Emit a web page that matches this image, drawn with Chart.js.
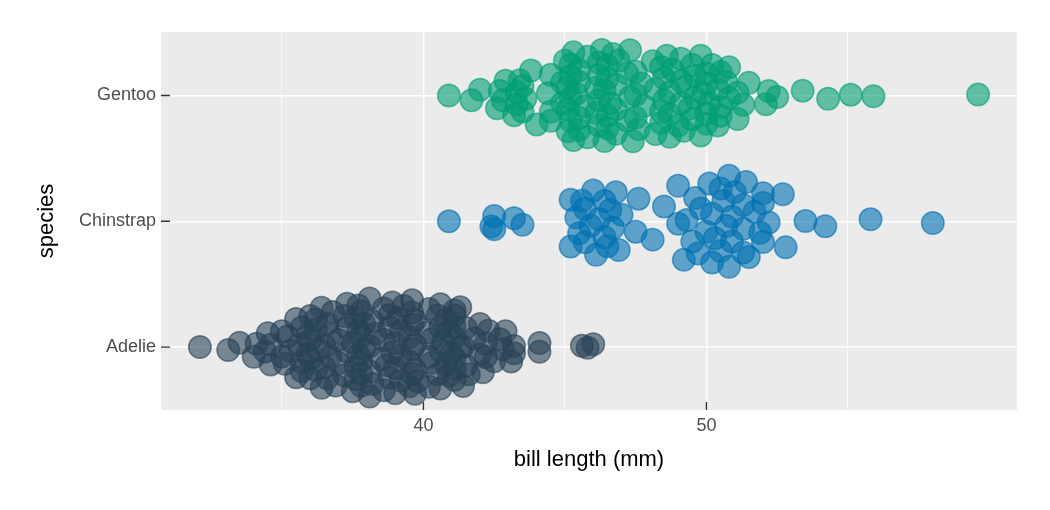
<!DOCTYPE html>
<html>
<head>
<meta charset="utf-8">
<script src="https://cdn.jsdelivr.net/npm/chart.js@4.4.1/dist/chart.umd.min.js"></script>
<style>
  body { margin: 0; background: #ffffff; }
  #wrap { width: 1050px; height: 510px; }
</style>
</head>
<body>
<div id="wrap"><canvas id="chart" width="1050" height="510"></canvas></div>
<script>
// bill length (mm) per species, in data order
const adelie = [39.1, 39.5, 40.3, 36.7, 39.3, 38.9, 39.2, 34.1, 42.0, 37.8, 37.8, 41.1, 38.6, 34.6, 36.6, 38.7, 42.5, 34.4, 46.0, 37.8,
  37.7, 35.9, 38.2, 38.8, 35.3, 40.6, 40.5, 37.9, 40.5, 39.5, 37.2, 39.5, 40.9, 36.4, 39.2, 38.8, 42.2, 37.6, 39.8, 36.5,
  40.8, 36.0, 44.1, 37.0, 39.6, 41.1, 37.5, 36.0, 42.3, 39.6, 40.1, 35.0, 42.0, 34.5, 41.4, 39.0, 40.6, 36.5, 37.6, 35.7,
  41.3, 37.6, 41.1, 36.4, 41.6, 35.5, 41.1, 35.9, 41.8, 33.5, 39.7, 39.6, 45.8, 35.5, 42.8, 40.9, 37.2, 36.2, 42.1, 34.6,
  42.9, 36.7, 35.1, 37.3, 41.3, 36.3, 36.9, 38.3, 38.9, 35.7, 41.1, 34.0, 39.6, 36.2, 40.8, 38.1, 40.3, 33.1, 43.2, 35.0,
  41.0, 37.7, 37.8, 37.9, 39.7, 38.6, 38.2, 38.1, 43.2, 38.1, 45.6, 39.7, 42.2, 39.6, 42.7, 38.6, 37.3, 35.7, 41.1, 36.2,
  37.7, 40.2, 41.4, 35.2, 40.6, 38.8, 41.5, 39.0, 44.1, 38.5, 43.1, 36.8, 37.5, 38.1, 41.1, 35.6, 40.2, 37.0, 39.7, 40.2,
  40.6, 32.1, 40.7, 37.3, 39.0, 39.2, 36.6, 36.0, 37.8, 36.0, 41.5];
const chinstrap = [46.5, 50.0, 51.3, 45.4, 52.7, 45.2, 46.1, 51.3, 46.0, 51.3, 46.6, 51.7, 47.0, 52.0, 45.9, 50.5, 50.3, 58.0, 46.4, 49.2,
  42.4, 48.5, 43.2, 50.6, 46.7, 52.0, 50.5, 49.5, 46.4, 52.8, 40.9, 54.2, 42.5, 51.0, 49.7, 47.5, 47.6, 52.0, 46.9, 53.5,
  49.0, 46.2, 50.9, 45.5, 50.9, 50.8, 50.1, 49.0, 51.5, 49.8, 48.1, 51.4, 45.7, 50.7, 42.5, 52.2, 45.2, 49.3, 50.2, 45.6,
  51.9, 46.8, 45.7, 55.8, 43.5, 49.6, 50.8, 50.2];
const gentoo = [46.1, 50.0, 48.7, 50.0, 47.6, 46.5, 45.4, 46.7, 43.3, 46.8, 40.9, 49.0, 45.5, 48.4, 45.8, 49.3, 42.0, 49.2, 46.2, 48.7,
  50.2, 45.1, 46.5, 46.3, 42.9, 46.1, 44.5, 47.8, 48.2, 50.0, 47.3, 42.8, 45.1, 59.6, 49.1, 48.4, 42.6, 44.4, 44.0, 48.7,
  42.7, 49.6, 45.3, 49.6, 50.5, 43.6, 45.5, 50.5, 44.9, 45.2, 46.6, 48.5, 45.1, 50.1, 46.5, 45.0, 43.8, 45.5, 43.2, 50.4,
  45.3, 46.2, 45.7, 54.3, 45.8, 49.8, 46.2, 49.5, 43.5, 50.7, 47.7, 46.4, 48.2, 46.5, 46.4, 48.6, 47.5, 51.1, 45.2, 45.2,
  49.1, 52.5, 47.4, 50.0, 44.9, 50.8, 43.4, 51.3, 47.5, 52.1, 47.5, 52.2, 45.5, 49.5, 44.5, 50.8, 49.4, 46.9, 48.4, 51.1,
  48.5, 55.9, 47.2, 49.1, 47.3, 46.8, 41.7, 53.4, 43.3, 48.1, 50.5, 49.8, 43.5, 51.5, 46.2, 55.1, 44.5, 48.8, 47.2, 46.8,
  50.4, 45.2, 49.9];

const species = ['Adelie', 'Chinstrap', 'Gentoo'];
const xMajorTicks = [40, 50];
const xMinorTicks = [35, 45, 55];
const xTickLabels = ['40', '50'];

const fontFamily = '"Liberation Sans", Arial, Helvetica, sans-serif';

// quasirandom layout (like ggbeeswarm): spread each group by its density
function vdc(k) {
    let out = 0, denom = 1;
    while (k > 0) {
        denom *= 2;
        out += (k % 2) / denom;
        k = Math.floor(k / 2);
    }
    return out;
}

function quasiOffsets(vals, width) {
    const n = vals.length;
    const sorted = [...vals].sort((a, b) => a - b);
    const mean = vals.reduce((s, v) => s + v, 0) / n;
    const sd = Math.sqrt(vals.reduce((s, v) => s + (v - mean) ** 2, 0) / (n - 1));
    const q = p => {
        const h = (n - 1) * p, lo = Math.floor(h);
        const hi = Math.min(lo + 1, n - 1);
        return sorted[lo] + (h - lo) * (sorted[hi] - sorted[lo]);
    };
    const bw = 0.9 * Math.min(sd, (q(0.75) - q(0.25)) / 1.34) * Math.pow(n, -0.2);
    const kde = x => vals.reduce((s, v) => s + Math.exp(-0.5 * ((x - v) / bw) ** 2), 0);
    const from = sorted[0] - 3 * bw, to = sorted[n - 1] + 3 * bw;
    let maxD = 0;
    for (let i = 0; i < 1024; i++) {
        maxD = Math.max(maxD, kde(from + (to - from) * i / 1023));
    }
    const order = vals.map((v, i) => i).sort((a, b) => vals[a] - vals[b] || a - b);
    const rank = new Array(n);
    order.forEach((idx, r) => { rank[idx] = r + 1; });
    return vals.map((v, i) => (vdc(rank[i]) - 0.5) * 2 * (kde(v) / maxD) * width);
}

function makePoints(vals, level) {
    const offs = quasiOffsets(vals, 0.4);
    return vals.map((v, i) => ({ x: v, y: level + offs[i] }));
}

function makeDataset(label, vals, level, rgb) {
    return {
        label: label,
        data: makePoints(vals, level),
        backgroundColor: 'rgba(' + rgb + ',0.6)',
        borderColor: 'rgba(' + rgb + ',0.6)',
        borderWidth: 1.5,
        pointRadius: 11.25,
        pointHoverRadius: 11.25
    };
}

const panelPlugin = {
    id: 'panel',
    beforeDraw(chart) {
        const { ctx, chartArea: a } = chart;
        ctx.save();
        ctx.fillStyle = '#EBEBEB';
        ctx.fillRect(a.left, a.top, a.right - a.left, a.bottom - a.top);
        ctx.restore();
    },
    afterDatasetsDraw(chart) {
        // ticks drawn inward from the panel edge
        const { ctx, chartArea: a, scales } = chart;
        ctx.save();
        ctx.strokeStyle = '#333333';
        ctx.lineWidth = 1.4;
        ctx.beginPath();
        xMajorTicks.forEach(v => {
            const px = scales.x.getPixelForValue(v);
            ctx.moveTo(px, a.bottom);
            ctx.lineTo(px, a.bottom - 8);
        });
        [1, 2, 3].forEach(v => {
            const py = scales.y.getPixelForValue(v);
            ctx.moveTo(a.left, py);
            ctx.lineTo(a.left + 9, py);
        });
        ctx.stroke();
        ctx.restore();
    }
};

const ctx = document.getElementById('chart').getContext('2d');
const chart = new Chart(ctx, {
    type: 'scatter',
    data: {
        datasets: [
            makeDataset('Adelie', adelie, 1, '40,66,86'),
            makeDataset('Chinstrap', chinstrap, 2, '0,114,178'),
            makeDataset('Gentoo', gentoo, 3, '0,158,115')
        ]
    },
    options: {
        responsive: false,
        devicePixelRatio: 1,
        animation: false,
        layout: { padding: { top: 32, right: 33, left: 0, bottom: 0 } },
        plugins: {
            legend: { display: false },
            tooltip: { enabled: false }
        },
        scales: {
            x: {
                type: 'linear',
                min: 30.725,
                max: 60.975,
                afterBuildTicks: scale => {
                    scale.ticks = [...xMinorTicks, ...xMajorTicks].sort((a, b) => a - b).map(v => ({ value: v }));
                },
                afterFit: scale => { scale.height = 100; },
                ticks: {
                    padding: 5,
                    color: '#4D4D4D',
                    font: { family: fontFamily, size: 18 },
                    maxRotation: 0,
                    callback: value => {
                        const i = xMajorTicks.indexOf(value);
                        return i >= 0 ? xTickLabels[i] : '';
                    }
                },
                grid: {
                    drawTicks: false,
                    color: '#FFFFFF',
                    lineWidth: c => (xMajorTicks.includes(c.tick && c.tick.value) ? 1.4 : 0.7)
                },
                border: { display: false },
                title: {
                    display: true,
                    text: 'bill length (mm)',
                    color: '#000000',
                    font: { family: fontFamily, size: 22 },
                    padding: { top: 0, bottom: 37 }
                }
            },
            y: {
                type: 'linear',
                min: 0.5,
                max: 3.505,
                afterBuildTicks: scale => {
                    scale.ticks = [1, 2, 3].map(v => ({ value: v }));
                },
                afterFit: scale => { scale.width = 161; },
                ticks: {
                    padding: 5,
                    color: '#4D4D4D',
                    font: { family: fontFamily, size: 18 },
                    callback: value => species[value - 1]
                },
                grid: {
                    drawTicks: false,
                    color: '#FFFFFF',
                    lineWidth: 1.4
                },
                border: { display: false },
                title: {
                    display: true,
                    text: 'species',
                    color: '#000000',
                    font: { family: fontFamily, size: 22 },
                    padding: { top: 34, bottom: 0 }
                }
            }
        }
    },
    plugins: [panelPlugin]
});
</script>
</body>
</html>
